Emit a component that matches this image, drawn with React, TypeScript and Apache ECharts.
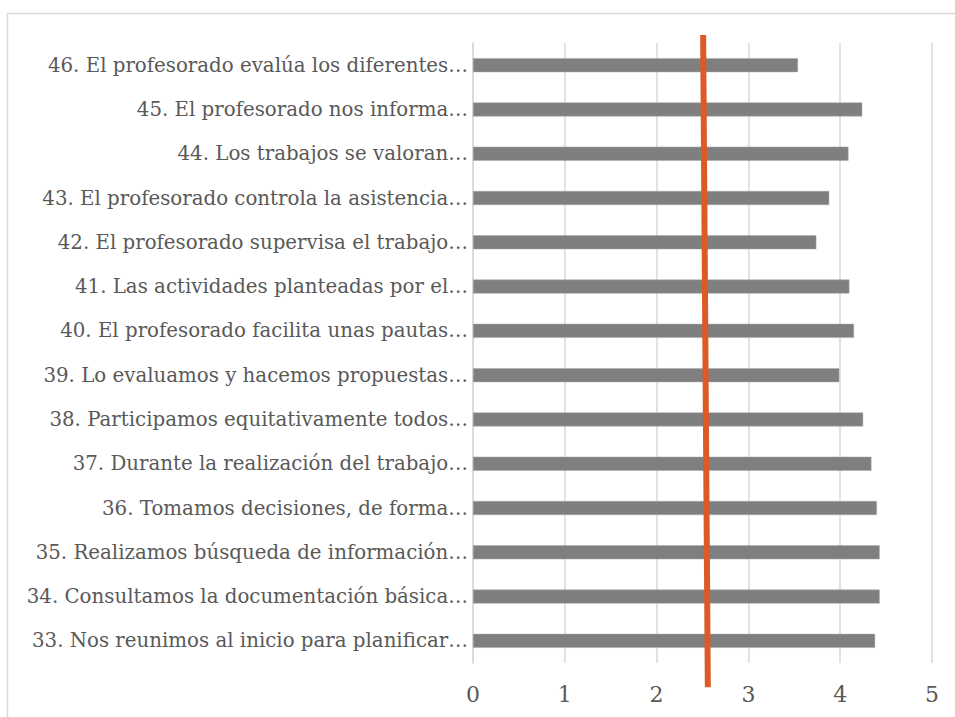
import React, { useEffect, useRef } from "react";
import * as echarts from "echarts";

const categories = [
  "33. Nos reunimos al inicio para planificar…",
  "34. Consultamos la documentación básica…",
  "35. Realizamos búsqueda de información…",
  "36. Tomamos decisiones, de forma…",
  "37. Durante la realización del trabajo…",
  "38. Participamos equitativamente todos…",
  "39. Lo evaluamos y hacemos propuestas…",
  "40. El profesorado facilita unas pautas…",
  "41. Las actividades planteadas por el…",
  "42. El profesorado supervisa el trabajo…",
  "43. El profesorado controla la asistencia…",
  "44. Los trabajos se valoran…",
  "45. El profesorado nos informa…",
  "46. El profesorado evalúa los diferentes…",
];

const values = [4.38, 4.43, 4.43, 4.4, 4.34, 4.25, 3.99, 4.15, 4.1, 3.74, 3.88, 4.09, 4.24, 3.54];

// reference line: [x value, relative height (0 = axis bottom, 1 = axis top)]
const refLine: [number, number][] = [
  [2.558, -0.039],
  [2.507, 1.013],
];

const xTicks = [0, 1, 2, 3, 4, 5];

export default function App() {
  const ref = useRef<HTMLDivElement>(null);
  useEffect(() => {
    document.body.style.margin = "0";
    const chart = echarts.init(ref.current!, null, { renderer: "svg" });
    const font = "DejaVu Serif";
    chart.setOption({
      animation: false,
      backgroundColor: "#ffffff",
      graphic: [
        {
          type: "rect",
          shape: { x: 7.5, y: 13.5, width: 960, height: 720 },
          style: { fill: "none", stroke: "#d9d9d9", lineWidth: 1.5 },
          silent: true,
        },
      ],
      grid: { left: 473, right: 23, top: 43, bottom: 54 },
      xAxis: {
        type: "value",
        min: xTicks[0],
        max: xTicks[xTicks.length - 1],
        interval: 1,
        axisLine: { show: false },
        axisTick: { show: false },
        splitLine: { lineStyle: { color: "#d9d9d9", width: 1.5 } },
        axisLabel: { color: "#595959", fontFamily: font, fontSize: 22, margin: 20 },
      },
      yAxis: [
        {
          type: "category",
          data: categories,
          axisLine: { show: true, lineStyle: { color: "#d9d9d9", width: 1.5 } },
          axisTick: { show: false },
          axisLabel: { color: "#595959", fontFamily: font, fontSize: 19.8, margin: 5 },
        },
        {
          type: "value",
          min: 0,
          max: 1,
          show: false,
        },
      ],
      series: [
        {
          type: "bar",
          data: values,
          barWidth: 14,
          itemStyle: { color: "#7f7f7f", borderColor: "#a6a6a6", borderWidth: 0.5 },
        },
        {
          type: "line",
          yAxisIndex: 1,
          data: refLine,
          clip: false,
          symbol: "none",
          lineStyle: { color: "#dd5a26", width: 6 },
          z: 5,
        },
      ],
    });
    return () => chart.dispose();
  }, []);
  return <div ref={ref} style={{ width: 955, height: 717 }} />;
}
